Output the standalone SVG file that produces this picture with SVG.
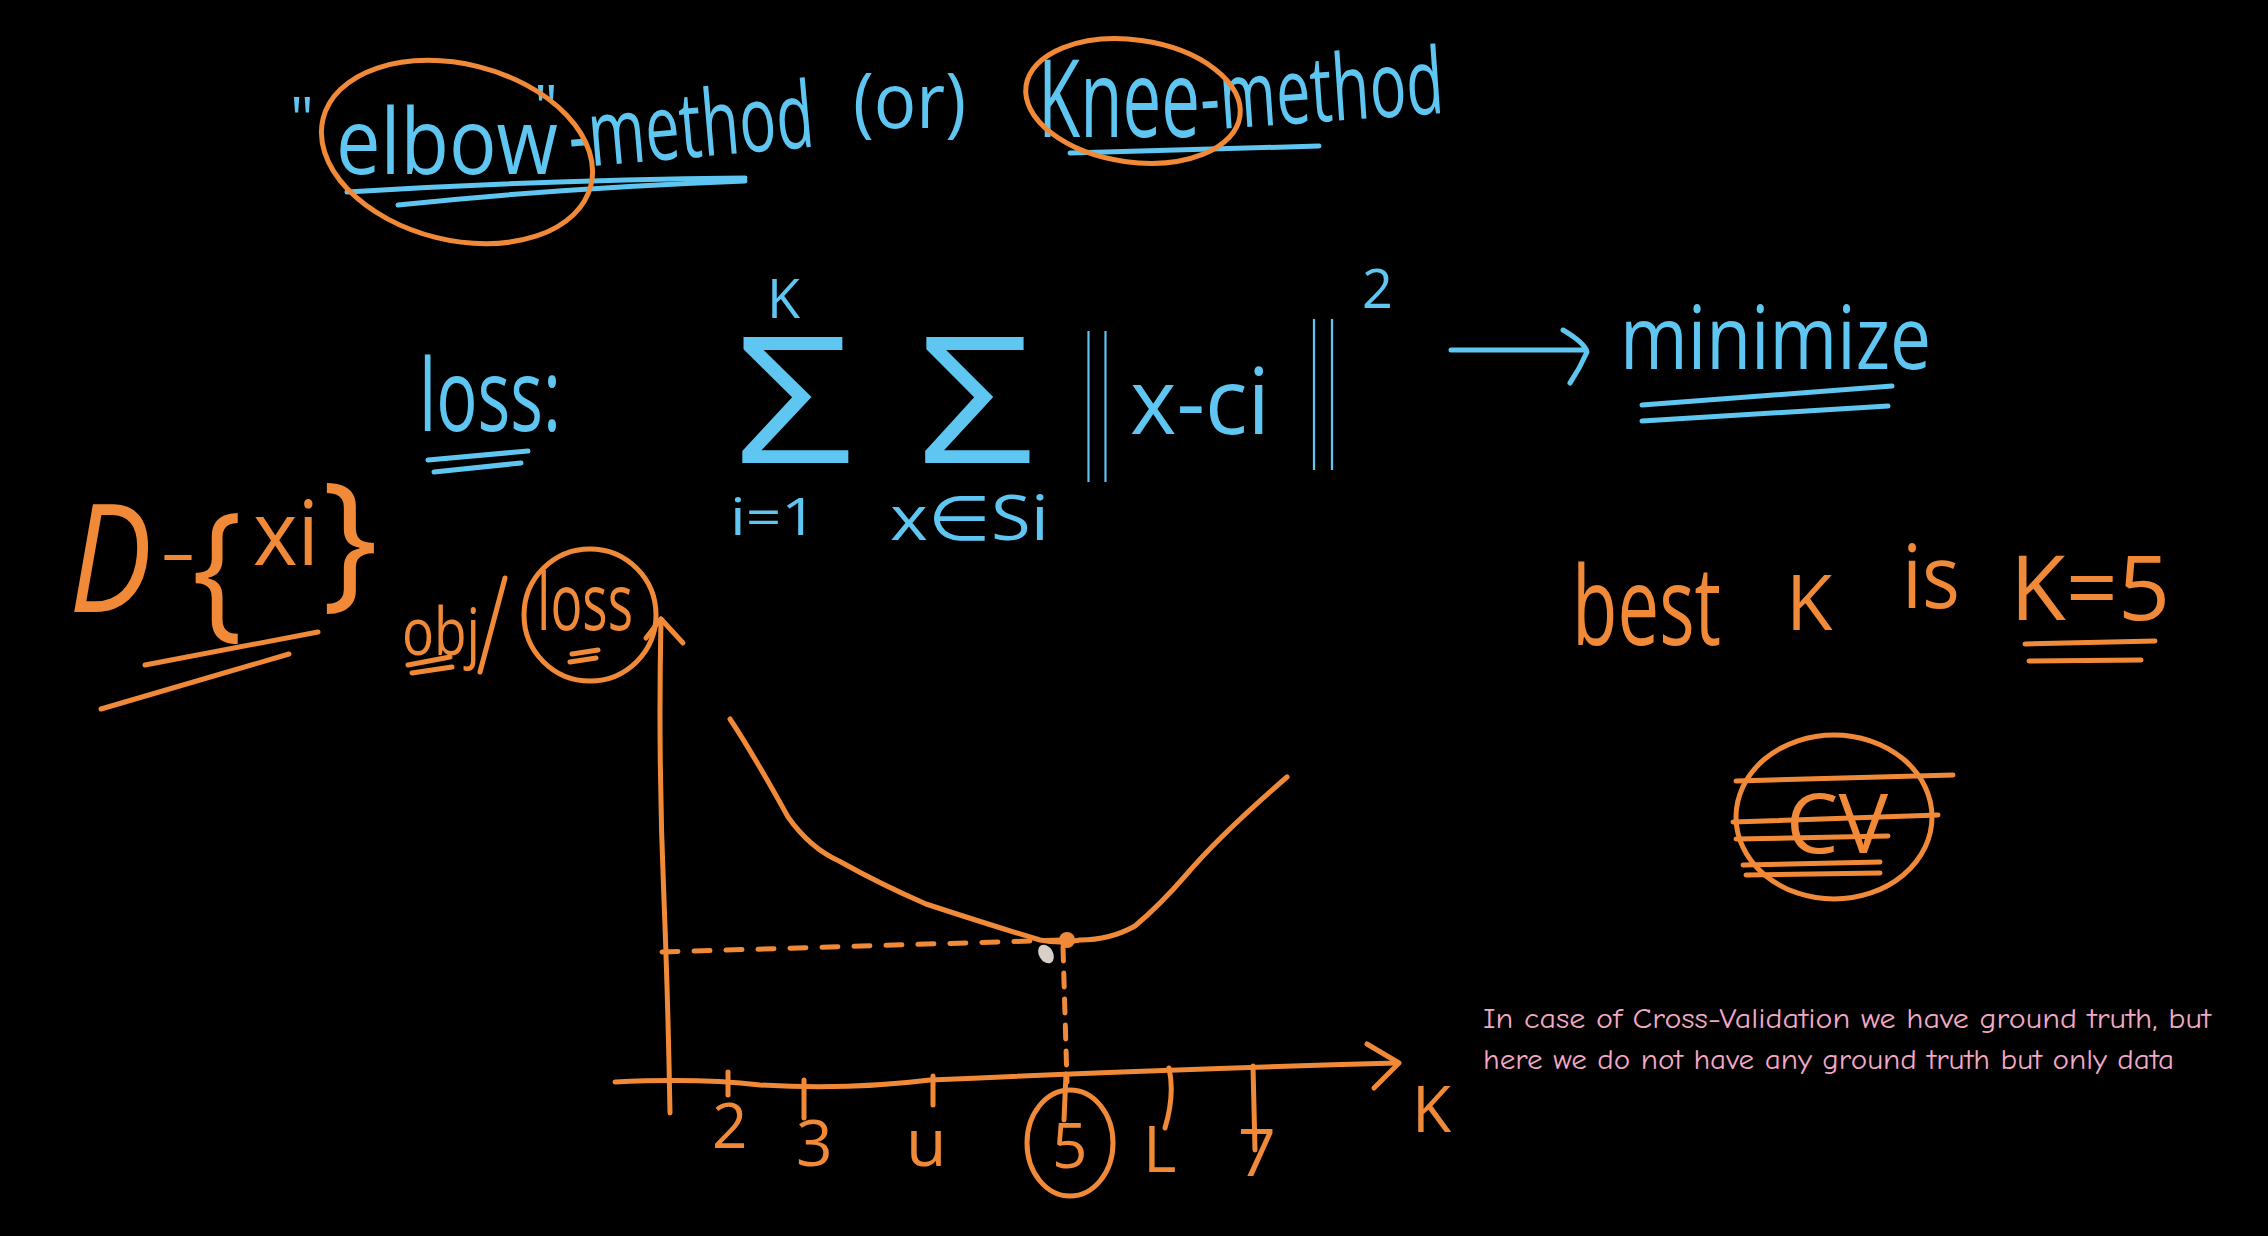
<svg xmlns="http://www.w3.org/2000/svg" width="2268" height="1236" viewBox="0 0 2268 1236">
<style>
.b{fill:#5ec6f0;font-family:"Open Sans","DejaVu Sans",sans-serif}
.o{fill:#f08a38;font-family:"Open Sans","DejaVu Sans",sans-serif}
.bs{fill:none;stroke:#5ec6f0;stroke-width:5;stroke-linecap:round;stroke-linejoin:round}
.os{fill:none;stroke:#f08a38;stroke-width:5;stroke-linecap:round;stroke-linejoin:round}
.pk{fill:#f2a8c6;font-family:"Comic Neue","Open Sans","DejaVu Sans",sans-serif;font-size:28px}
</style>
<rect width="2268" height="1236" fill="#000"/>
<g id="title">
<text class="b" x="290" y="140" font-size="60">"</text>
<text class="b" x="336" y="174" font-size="92" textLength="222" lengthAdjust="spacingAndGlyphs">elbow</text>
<text class="b" x="534" y="128" font-size="60">"</text>
<text class="b" x="571" y="168" font-size="92" textLength="246" lengthAdjust="spacingAndGlyphs" transform="rotate(-5 571 168)">-method</text>
<text class="b" x="853" y="128" font-size="76" textLength="113" lengthAdjust="spacingAndGlyphs">(or)</text>
<text class="b" x="1038" y="137" font-size="108" textLength="162" lengthAdjust="spacingAndGlyphs">Knee</text>
<text class="b" x="1202" y="130" font-size="92" textLength="244" lengthAdjust="spacingAndGlyphs" transform="rotate(-4 1202 130)">-method</text>
<path class="bs" d="M347 192 Q540 180 745 178"/>
<path class="bs" d="M398 205 Q560 188 745 181"/>
<path class="bs" d="M1070 153 L1319 146" stroke-width="8"/>
<ellipse class="os" cx="457" cy="152" rx="138" ry="88" transform="rotate(14 457 152)"/>
<ellipse class="os" cx="1133" cy="101" rx="108" ry="61" transform="rotate(8 1133 101)"/>
</g>
<g id="loss-formula">
<text class="b" x="419" y="431" font-size="100" textLength="142" lengthAdjust="spacingAndGlyphs">loss:</text>
<path class="bs" d="M428 460 L528 451 M434 472 L521 463"/>
<text class="b" x="735" y="463" font-size="176" textLength="118" lengthAdjust="spacingAndGlyphs">Σ</text>
<text class="b" x="767" y="318" font-size="54">K</text>
<text class="b" x="730" y="535" font-size="52" textLength="87" lengthAdjust="spacingAndGlyphs">i=1</text>
<text class="b" x="918" y="463" font-size="176" textLength="116" lengthAdjust="spacingAndGlyphs">Σ</text>
<text class="b" x="890" y="540" font-size="62" textLength="159" lengthAdjust="spacingAndGlyphs">x∈Si</text>
<text class="b" x="1080" y="446" font-size="150" textLength="34" lengthAdjust="spacingAndGlyphs">||</text>
<text class="b" x="1130" y="434" font-size="92" textLength="140" lengthAdjust="spacingAndGlyphs">x-ci</text>
<text class="b" x="1305" y="434" font-size="150" textLength="36" lengthAdjust="spacingAndGlyphs">||</text>
<text class="b" x="1362" y="308" font-size="54">2</text>
<path class="bs" d="M1451 350 L1584 350 M1563 330 Q1585 343 1587 352 Q1580 368 1570 383"/>
<text class="b" x="1620" y="369" font-size="88" textLength="311" lengthAdjust="spacingAndGlyphs">minimize</text>
<path class="bs" d="M1642 405 L1892 386 M1642 421 L1888 406" stroke-width="7"/>
</g>
<g id="dataset">
<text class="o" x="69" y="612" font-size="150" font-style="italic" textLength="83" lengthAdjust="spacingAndGlyphs" font-family="Liberation Serif">D</text>
<text class="o" x="160" y="576" font-size="70" textLength="36" lengthAdjust="spacingAndGlyphs">-</text>
<text class="o" x="192" y="620" font-size="150" textLength="50" lengthAdjust="spacingAndGlyphs">{</text>
<text class="o" x="253" y="565" font-size="90" textLength="66" lengthAdjust="spacingAndGlyphs">xi</text>
<text class="o" x="322" y="590" font-size="150" textLength="56" lengthAdjust="spacingAndGlyphs">}</text>
<path class="os" d="M145 665 L318 632 M101 709 L289 654"/>
</g>
<g id="axis-label">
<text class="o" x="402" y="655" font-size="66" textLength="78" lengthAdjust="spacingAndGlyphs">obj</text>
<path class="os" d="M408 665 L450 657 M412 673 L452 667"/>
<path class="os" d="M480 672 L505 578"/>
<text class="o" x="537" y="630" font-size="78" textLength="96" lengthAdjust="spacingAndGlyphs">loss</text>
<path class="os" d="M572 654 L598 650 M570 662 L596 658"/>
<ellipse class="os" cx="590" cy="615" rx="66" ry="66"/>
</g>
<g id="plot">
<path class="os" d="M670 1113 Q668 1000 664 900 Q658 760 661 619"/>
<path class="os" d="M646 638 L661 619 L683 643"/>
<path class="os" d="M615 1082 Q700 1078 760 1085 Q850 1090 930 1080 Q1150 1070 1396 1063"/>
<path class="os" d="M1367 1044 L1399 1063 L1374 1088"/>
<path class="os" d="M728 1072 L728 1095 M804 1080 L804 1118 M933 1076 L933 1105 M1066 1074 L1064 1120 M1169 1068 Q1175 1095 1165 1128 M1253 1066 L1255 1150"/>
<text class="o" x="712" y="1148" font-size="62">2</text>
<text class="o" x="796" y="1166" font-size="64">3</text>
<text class="o" x="906" y="1166" font-size="66">u</text>
<text class="o" x="1052" y="1168" font-size="62">5</text>
<ellipse class="os" cx="1070" cy="1143" rx="43" ry="53"/>
<text class="o" x="1143" y="1172" font-size="64">L</text>
<text class="o" x="1238" y="1176" font-size="66">7</text>
<text class="o" x="1412" y="1132" font-size="64">K</text>
<path class="os" d="M730 719 Q752 752 788 817 Q810 848 839 861 Q880 884 926 904 Q990 925 1040 940 Q1060 944 1080 940 Q1110 940 1135 926 Q1160 905 1186 875 Q1220 835 1287 777"/>
<path class="os" d="M662 952 L1063 940" stroke-dasharray="16 16"/>
<path class="os" d="M1063 947 L1067 1082" stroke-dasharray="14 12"/>
<circle cx="1067" cy="940" r="8" fill="#f08a38"/>
<ellipse cx="1046" cy="954" rx="7" ry="10" fill="#d8d0c8" transform="rotate(-30 1046 954)"/>
</g>
<g id="best-k">
<text class="o" x="1572" y="645" font-size="110" textLength="149" lengthAdjust="spacingAndGlyphs">best</text>
<text class="o" x="1786" y="630" font-size="76">K</text>
<text class="o" x="1902" y="608" font-size="88" textLength="58" lengthAdjust="spacingAndGlyphs">is</text>
<text class="o" x="2010" y="620" font-size="90" textLength="160" lengthAdjust="spacingAndGlyphs">K=5</text>
<path class="os" d="M2025 644 L2155 641 M2029 661 L2141 660"/>
</g>
<g id="cv">
<ellipse class="os" cx="1834" cy="817" rx="98" ry="82"/>
<text class="o" x="1786" y="853" font-size="82" textLength="102" lengthAdjust="spacingAndGlyphs">CV</text>
<path class="os" d="M1736 781 L1953 775 M1733 822 L1938 815 M1736 839 L1888 836 M1743 865 L1880 862 M1746 875 L1880 873"/>
</g>
<g id="note">
<text class="pk" x="1483" y="1028" textLength="728" lengthAdjust="spacingAndGlyphs">In case of Cross-Validation we have ground truth, but</text>
<text class="pk" x="1483" y="1069" textLength="691" lengthAdjust="spacingAndGlyphs">here we do not have any ground truth but only data</text>
</g>
</svg>
